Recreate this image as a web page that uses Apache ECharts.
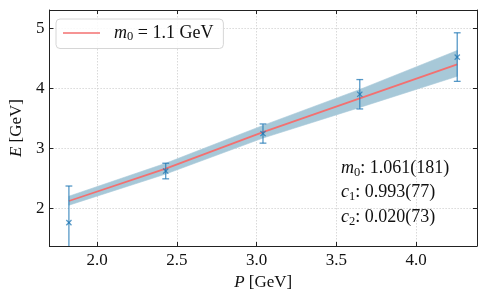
<!DOCTYPE html>
<html><head><meta charset="utf-8">
<script src="https://cdn.jsdelivr.net/npm/echarts@6/dist/echarts.min.js"></script>
<style>html,body{margin:0;padding:0;background:#fff}#c{width:488px;height:302px}</style>
</head><body><div id="c"></div>
<script>
// data
var P = [1.823, 2.430, 3.040, 3.647, 4.258];
var E = [1.76, 2.62, 3.245, 3.90, 4.52];
var Eerr = [0.61, 0.13, 0.16, 0.245, 0.405];
var fitE = [2.12, 2.66, 3.27, 3.83, 4.40];
var bandLow = [2.05, 2.57, 3.17, 3.68, 4.20];
var bandHigh = [2.20, 2.75, 3.38, 3.98, 4.63];
var xTicks = [2.0, 2.5, 3.0, 3.5, 4.0];
var yTicks = [2, 3, 4, 5];
var xRange = [1.7007, 4.382];
var yRange = [1.37, 5.305];
var legendLabel = '= 1.1 GeV';
var fitParams = [['m', '0', ': 1.061(181)'], ['c', '1', ': 0.993(77)'], ['c', '2', ': 0.020(73)']];

var FONT = 'Liberation Serif';
var chart = echarts.init(document.getElementById('c'), null, {renderer: 'canvas'});

var nameRich = {
  i: {fontFamily: FONT, fontStyle: 'italic', fontSize: 17, color: '#111'},
  t: {fontFamily: FONT, fontSize: 17, color: '#111'}
};
function axisX(idx) {
  return {
    type: 'value', min: xRange[0], max: xRange[1], gridIndex: 0,
    position: idx === 0 ? 'bottom' : 'top',
    axisLine: {show: true, onZero: false, lineStyle: {color: '#222', width: 1}},
    axisTick: {show: true, inside: true, length: 4, customValues: xTicks, lineStyle: {color: '#222', width: 1}},
    axisLabel: {show: idx === 0, customValues: xTicks, margin: 6, fontFamily: FONT, fontSize: 17, color: '#111',
      formatter: function (v) { return v.toFixed(1); }},
    splitLine: {show: idx === 0, lineStyle: {color: '#cfcfcf', type: [1.5, 1.5], width: 0.8}},
    name: idx === 0 ? '{i|P}{t| [GeV]}' : '', nameLocation: 'middle', nameGap: 21,
    nameTextStyle: {fontFamily: FONT, fontSize: 17, color: '#111', rich: nameRich}
  };
}
function axisY(idx) {
  return {
    type: 'value', min: yRange[0], max: yRange[1], gridIndex: 0,
    position: idx === 0 ? 'left' : 'right',
    axisLine: {show: true, onZero: false, lineStyle: {color: '#222', width: 1}},
    axisTick: {show: true, inside: true, length: 4, customValues: yTicks, lineStyle: {color: '#222', width: 1}},
    axisLabel: {show: idx === 0, customValues: yTicks, margin: 5, fontFamily: FONT, fontSize: 17, color: '#111'},
    splitLine: {show: idx === 0, lineStyle: {color: '#cfcfcf', type: [1.5, 1.5], width: 0.8}},
    name: idx === 0 ? '{i|E}{t| [GeV]}' : '', nameLocation: 'middle', nameGap: 16, nameRotate: 90,
    nameTextStyle: {fontFamily: FONT, fontSize: 17, color: '#111', rich: nameRich}
  };
}

var bandData = P.map(function (p, i) { return [p, bandLow[i], bandHigh[i]]; });
var fitData = P.map(function (p, i) { return [p, fitE[i]]; });
var errData = P.map(function (p, i) { return [p, E[i], E[i] - Eerr[i], E[i] + Eerr[i]]; });

var errColor = 'rgba(31,119,180,0.75)';

var option = {
  animation: false,
  backgroundColor: '#fff',
  grid: {left: 47, right: 11, top: 10, bottom: 56, containLabel: false},
  xAxis: [axisX(0), axisX(1)],
  yAxis: [axisY(0), axisY(1)],
  legend: {
    data: [{name: 'fit', icon: 'path://M0,0L40,0L40,1.6L0,1.6Z'}], left: 56, top: 19, orient: 'vertical',
    padding: [5, 10, 5, 7], itemWidth: 37, itemHeight: 2,
    borderColor: '#d6d6d6', borderWidth: 1, borderRadius: 4,
    backgroundColor: 'rgba(255,255,255,0.85)',
    formatter: function () { return '{i|m}{s|0}{t| ' + legendLabel + '}'; },
    textStyle: {fontFamily: FONT, fontSize: 18, color: '#111', rich: {
      i: {fontFamily: FONT, fontStyle: 'italic', fontSize: 18, color: '#111', padding: [0, 0, 0, 9], lineHeight: 21},
      s: {fontFamily: FONT, fontSize: 12.5, color: '#111', verticalAlign: 'bottom', lineHeight: 21},
      t: {fontFamily: FONT, fontSize: 18, color: '#111', lineHeight: 21}}}
  },
  series: [
    {name: 'band', type: 'custom', data: bandData, clip: true, z: 2, silent: true,
     encode: {x: 0, y: [1, 2]},
     renderItem: function (params, api) {
       if (params.dataIndex !== 0) return null;
       var upper = [], lower = [];
       for (var i = 0; i < bandData.length; i++) {
         upper.push(api.coord([bandData[i][0], bandData[i][2]]));
         lower.unshift(api.coord([bandData[i][0], bandData[i][1]]));
       }
       return {type: 'polygon', shape: {points: upper.concat(lower)},
               style: {fill: 'rgb(167,200,216)', stroke: 'rgba(167,200,216,0.6)', lineWidth: 1}};
     }},
    {name: 'fit', type: 'line', data: fitData, symbol: 'none', color: '#f37070',
     lineStyle: {color: '#f37070', width: 1.8}, z: 4},
    {name: 'err', type: 'custom', data: errData, clip: true, z: 5,
     encode: {x: 0, y: [1, 2, 3]},
     renderItem: function (params, api) {
       var x = api.value(0);
       var c = api.coord([x, api.value(1)]);
       var lo = api.coord([x, api.value(2)]);
       var hi = api.coord([x, api.value(3)]);
       var cw = 3.4, m = 2.6;
       var st = {stroke: errColor, lineWidth: 1.3, fill: null};
       return {type: 'group', children: [
         {type: 'line', shape: {x1: c[0], y1: lo[1], x2: c[0], y2: hi[1]}, style: st},
         {type: 'line', shape: {x1: c[0] - cw, y1: lo[1], x2: c[0] + cw, y2: lo[1]}, style: st},
         {type: 'line', shape: {x1: c[0] - cw, y1: hi[1], x2: c[0] + cw, y2: hi[1]}, style: st},
         {type: 'line', shape: {x1: c[0] - m, y1: c[1] - m, x2: c[0] + m, y2: c[1] + m}, style: st},
         {type: 'line', shape: {x1: c[0] - m, y1: c[1] + m, x2: c[0] + m, y2: c[1] - m}, style: st}
       ]};
     }}
  ],
  graphic: fitParams.map(function (fp, i) {
    return {type: 'text', left: 341, top: 159 + i * 24.5, z: 10, style: {
      text: '{i|' + fp[0] + '}{s|' + fp[1] + '}{t|' + fp[2] + '}',
      rich: {
        i: {fontFamily: FONT, fontStyle: 'italic', fontSize: 18, fill: '#111', lineHeight: 22},
        s: {fontFamily: FONT, fontSize: 12.5, fill: '#111', verticalAlign: 'bottom', lineHeight: 22},
        t: {fontFamily: FONT, fontSize: 18, fill: '#111', lineHeight: 22}
      }}};
  })
};
chart.setOption(option);
</script></body></html>
